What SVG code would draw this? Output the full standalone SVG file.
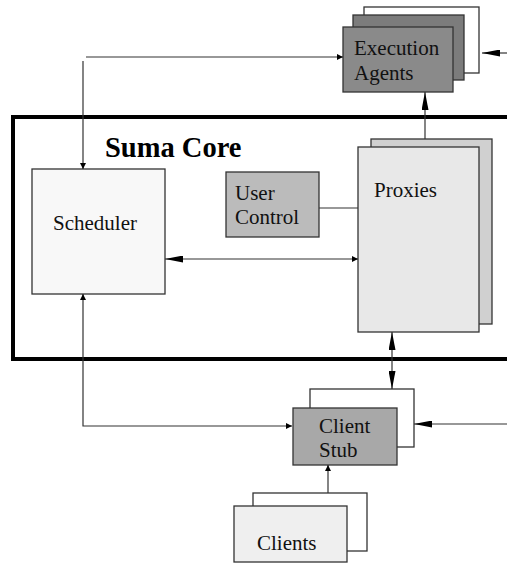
<svg xmlns="http://www.w3.org/2000/svg" width="507" height="563" viewBox="0 0 507 563">
<defs>
<style>
.box{stroke:#333;stroke-width:1.3}
.lbl{font-family:"Liberation Serif","Times New Roman",serif;font-size:21px;fill:#111}
.title{font-family:"Liberation Serif","Times New Roman",serif;font-size:28.5px;font-weight:bold;fill:#000}
.ln{fill:none;stroke:#333;stroke-width:1.2}
</style>
<marker id="big" viewBox="0 0 18 7" refX="18" refY="3.5" markerWidth="18" markerHeight="7" markerUnits="userSpaceOnUse" orient="auto-start-reverse"><path d="M0,0 L18,3.5 L0,7 Z" fill="#000"/></marker>
<marker id="small" viewBox="0 0 6 6" refX="6" refY="3" markerWidth="6" markerHeight="6" markerUnits="userSpaceOnUse" orient="auto-start-reverse"><path d="M0,0 L6,3 L0,6 Z" fill="#000"/></marker>
</defs>
<rect width="507" height="563" fill="#fff"/>
<g id="suma-core">
<rect x="13" y="117" width="500" height="242" fill="none" stroke="#000" stroke-width="4"/>
<text class="title" x="105" y="157">Suma Core</text>
</g>
<g id="execution-agents">
<rect class="box" x="364" y="7" width="115" height="66" fill="#fff"/>
<rect class="box" x="353" y="15" width="111" height="65" fill="#7c7c7c"/>
<rect class="box" x="343" y="27" width="110" height="65" fill="#8a8a8a"/>
<text class="lbl" x="354" y="55">Execution</text>
<text class="lbl" x="354" y="80">Agents</text>
</g>
<g id="scheduler">
<rect class="box" x="32" y="169" width="133" height="125" fill="#f8f8f8"/>
<text class="lbl" x="53" y="230">Scheduler</text>
</g>
<g id="user-control">
<rect class="box" x="226" y="172" width="93" height="65" fill="#bbb"/>
<text class="lbl" x="235" y="200">User</text>
<text class="lbl" x="235" y="224">Control</text>
</g>
<g id="proxies">
<rect class="box" x="371" y="139" width="121" height="185" fill="#d0d0d0"/>
<rect class="box" x="358" y="147" width="121" height="185" fill="#e8e8e8"/>
<text class="lbl" x="374" y="197">Proxies</text>
</g>
<g id="client-stub">
<rect class="box" x="310" y="389" width="104" height="58" fill="#fff"/>
<rect class="box" x="293" y="408" width="104" height="57" fill="#a8a8a8"/>
<text class="lbl" x="319" y="433">Client</text>
<text class="lbl" x="319" y="457">Stub</text>
</g>
<g id="clients">
<rect class="box" x="253" y="493" width="114" height="58" fill="#fff"/>
<rect class="box" x="234" y="506" width="113" height="56" fill="#efefef"/>
<text class="lbl" x="257" y="550">Clients</text>
</g>
<g id="connectors">
<line class="ln" x1="86" y1="57" x2="343" y2="57" marker-end="url(#small)"/>
<line class="ln" x1="83" y1="61" x2="83" y2="169" marker-end="url(#small)"/>
<line class="ln" x1="507" y1="53" x2="482" y2="53" marker-end="url(#big)"/>
<line class="ln" x1="425" y1="139" x2="425" y2="92" marker-end="url(#big)"/>
<line class="ln" x1="358" y1="259" x2="165" y2="259" marker-start="url(#small)" marker-end="url(#big)"/>
<line class="ln" x1="319" y1="208" x2="358" y2="208"/>
<line class="ln" x1="392" y1="332" x2="392" y2="389" marker-start="url(#big)" marker-end="url(#big)"/>
<polyline class="ln" points="83,294 83,426 292,426" marker-start="url(#small)" marker-end="url(#small)"/>
<line class="ln" x1="507" y1="424" x2="414" y2="424" marker-end="url(#big)"/>
<line class="ln" x1="328" y1="493" x2="328" y2="465" marker-end="url(#small)"/>
</g>
</svg>
